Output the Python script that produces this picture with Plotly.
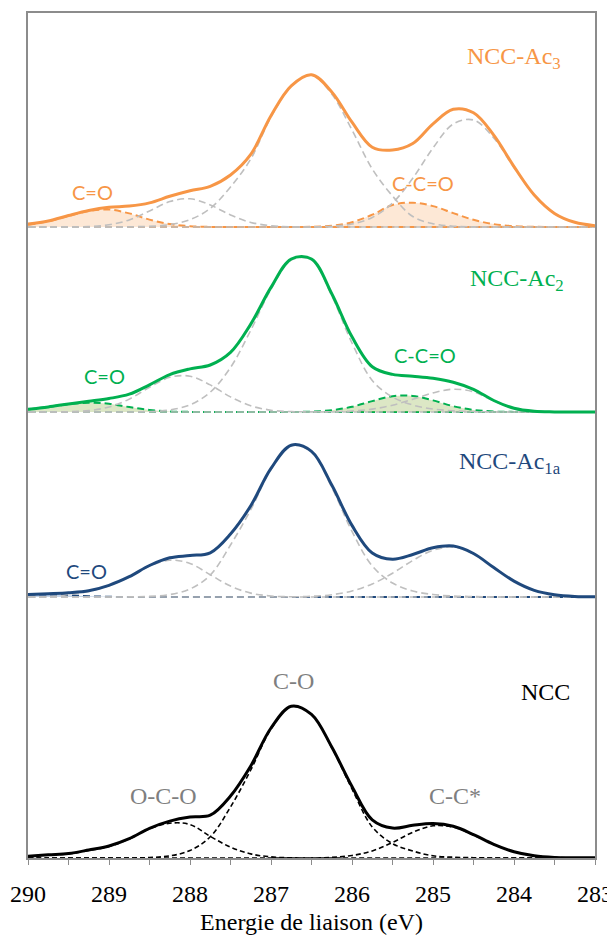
import plotly.graph_objects as go

# binding energy grid (eV)
energy = [290, 289.75, 289.5, 289.25, 289, 288.75, 288.5, 288.25, 288, 287.75,
          287.5, 287.25, 287, 286.75, 286.5, 286.25, 286, 285.75, 285.5, 285.25,
          285, 284.75, 284.5, 284.25, 284, 283.75, 283.5, 283.25, 283]

# NCC
ncc_env = [1.7, 3.2, 4.5, 8, 12, 19.3, 29.7, 36.9, 41, 42.8, 62, 92.1, 130, 151.8, 143.6,
           111, 71.5, 38.1, 29.9, 32.7, 34.4, 31.7, 23.4, 13.6, 6.2, 2.2, 0.6, 0.3, 0.3]
ncc_oco = [1.5, 3, 4, 7.5, 11.5, 19.1, 29.2, 34.8, 33.5, 21.6, 10.9, 4.1, 1.1, 0.2, 0,
           0, 0, 0, 0, 0, 0, 0, 0, 0, 0, 0, 0, 0, 0]
ncc_co = [0, 0, 0, 0, 0, 0, 0.5, 2.1, 7.5, 21.2, 51, 88, 128.9, 151.6, 143.5,
          110.4, 69, 31, 14.4, 7, 2.2, 0.8, 0.3, 0, 0, 0, 0, 0, 0]
ncc_cc = [0, 0, 0, 0, 0, 0, 0, 0, 0, 0, 0, 0, 0, 0, 0,
          0.6, 2.5, 7.1, 15.5, 25.7, 32.2, 30.9, 23.1, 13.6, 6.2, 2.2, 0.6, 0.1, 0]

# NCC-Ac1a
ac1a_env = [2.5, 3.3, 4.3, 6.3, 11.7, 20.3, 31.5, 39.2, 41.5, 44.2, 63, 91.2, 128.6, 151.8, 145.6,
            112, 71.6, 44, 37.8, 42.5, 49.2, 50.9, 43.5, 29.4, 15.9, 6.7, 2.3, 0.6, 0.3]
ac1a_c_o = [2.4, 2.6, 1.8, 0.8, 0.2, 0, 0, 0, 0, 0, 0, 0, 0, 0, 0,
            0, 0, 0, 0, 0, 0, 0, 0, 0, 0, 0, 0, 0, 0]
ac1a_oco = [0, 0.3, 2.5, 5.5, 11.5, 20.2, 30.9, 36.8, 33.5, 22.3, 10.9, 3.9, 1, 0.2, 0,
            0, 0, 0, 0, 0, 0, 0, 0, 0, 0, 0, 0, 0, 0]
ac1a_co = [0, 0, 0, 0, 0, 0.1, 0.6, 2.4, 8, 21.9, 52, 87.3, 127.6, 151.4, 144.9,
           109.7, 65.6, 31, 14, 6, 2.5, 1, 0.4, 0, 0, 0, 0, 0, 0]
ac1a_cc = [0, 0, 0, 0, 0, 0, 0, 0, 0, 0, 0, 0, 0, 0.2, 0.7,
           2.3, 6, 13, 23.8, 36.5, 46.7, 49.9, 43.1, 29.4, 15.9, 6.7, 2.3, 0.6, 0.1]

# NCC-Ac2
ac2_env = [2.7, 5.1, 8.1, 10.7, 13.5, 17.8, 27.2, 37.4, 43.1, 47, 59.6, 87.9, 124.6, 153, 153,
           118.3, 75.2, 45.3, 37.6, 35.8, 33.7, 29.8, 22.7, 11.5, 3.7, 0.7, 0.1, 0, 0]
ac2_c_o = [2.6, 5.1, 7.8, 9.3, 8.2, 4.9, 2, 0.6, 0.1, 0, 0, 0, 0, 0, 0,
           0, 0, 0, 0, 0, 0, 0, 0, 0, 0, 0, 0, 0, 0]
ac2_oco = [0, 0, 0.3, 1.4, 5, 12.9, 24.7, 34.7, 35.8, 27.1, 15.1, 6.2, 1.8, 0.4, 0.1,
           0, 0, 0, 0, 0, 0, 0, 0, 0, 0, 0, 0, 0, 0]
ac2_co = [0, 0, 0, 0, 0, 0, 0.5, 2.1, 7.2, 19.8, 44.5, 81.7, 122.8, 152, 152,
          116.2, 69, 31.5, 15, 7, 3, 1.2, 0.4, 0, 0, 0, 0, 0, 0]
ac2_ccco = [0, 0, 0, 0, 0, 0, 0, 0, 0, 0, 0, 0, 0, 0, 0.4,
            1.8, 5.2, 10.9, 15.8, 16.1, 11.6, 5.8, 2.1, 0.5, 0.1, 0, 0, 0, 0]
ac2_cc = [0, 0, 0, 0, 0, 0, 0, 0, 0, 0, 0, 0, 0, 0, 0,
          0.3, 1, 2.9, 6.8, 12.7, 19.1, 22.8, 20.2, 11, 3.6, 0.7, 0.1, 0, 0]

# NCC-Ac3
ac3_env = [3, 6, 11.5, 16.5, 19.7, 20.9, 24.1, 30.7, 36.3, 40.7, 52, 72.6, 111.3, 141.2, 152.3,
           135.1, 104.8, 79.8, 77, 83.5, 103.2, 117.7, 114.3, 91.9, 60.4, 32, 13.6, 4.7, 1.3]
ac3_c_o = [2.2, 5.6, 11, 16, 17.5, 13.6, 7.4, 2.9, 0.8, 0.1, 0, 0, 0, 0, 0,
           0, 0, 0, 0, 0, 0, 0, 0, 0, 0, 0, 0, 0, 0]
ac3_oco = [0, 0, 0.1, 0.5, 2.2, 7.1, 16, 25.4, 28.2, 22, 12, 4.6, 1.3, 0.2, 0,
           0, 0, 0, 0, 0, 0, 0, 0, 0, 0, 0, 0, 0, 0]
ac3_co = [0, 0, 0, 0, 0, 0.2, 0.7, 2.4, 7.3, 18.6, 40, 68, 110, 141, 152,
          133, 97, 58, 31, 10.5, 3.3, 0.8, 0.1, 0, 0, 0, 0, 0, 0]
ac3_ccco = [0, 0, 0, 0, 0, 0, 0, 0, 0, 0, 0, 0, 0, 0, 0.2,
            1.3, 4.8, 12.3, 22, 24.3, 20.9, 13.9, 7.2, 2.9, 0.9, 0.2, 0, 0, 0]
ac3_cc = [0, 0, 0, 0, 0, 0, 0, 0, 0, 0, 0, 0, 0, 0, 0.1,
          0.8, 3, 9.5, 24, 48.7, 79, 103, 107, 89, 59.5, 31.8, 13.6, 4.7, 1.3]

# vertical offset of each spectrum
offsets = {'ncc': 0, 'ac1a': 261, 'ac2': 446, 'ac3': 631}

ORANGE = '#F79646'
GREEN = '#00B050'
NAVY = '#1F497D'
GREY = '#BFBFBF'
FRAME = '#8C8C8C'

fig = go.Figure()


def shift(vals, off):
    return [v + off for v in vals]


def line(vals, off, color, width, dash='solid'):
    fig.add_trace(go.Scatter(x=energy, y=shift(vals, off), mode='lines',
                             line=dict(color=color, width=width, dash=dash, shape='spline'),
                             hoverinfo='skip'))


def filled(vals, off, color, fillcolor):
    # invisible baseline, then the shaded component
    fig.add_trace(go.Scatter(x=energy, y=[off] * len(energy), mode='lines',
                             line=dict(width=0), hoverinfo='skip'))
    fig.add_trace(go.Scatter(x=energy, y=shift(vals, off), mode='lines', fill='tonexty',
                             fillcolor=fillcolor,
                             line=dict(color=color, width=2, dash='7px,4px', shape='spline'),
                             hoverinfo='skip'))


# NCC-Ac3
o = offsets['ac3']
filled(ac3_c_o, o, ORANGE, 'rgba(247,150,70,0.22)')
filled(ac3_ccco, o, ORANGE, 'rgba(247,150,70,0.22)')
for comp in (ac3_oco, ac3_co, ac3_cc):
    line(comp, o, GREY, 1.6, '7px,4px')
line(ac3_env, o, ORANGE, 3)

# NCC-Ac2
o = offsets['ac2']
filled(ac2_c_o, o, GREEN, 'rgba(155,187,89,0.35)')
filled(ac2_ccco, o, GREEN, 'rgba(155,187,89,0.35)')
for comp in (ac2_oco, ac2_co, ac2_cc):
    line(comp, o, GREY, 1.6, '7px,4px')
line(ac2_env, o, GREEN, 3)

# NCC-Ac1a
o = offsets['ac1a']
filled(ac1a_c_o, o, NAVY, 'rgba(79,129,189,0.35)')
for comp in (ac1a_oco, ac1a_co, ac1a_cc):
    line(comp, o, GREY, 1.6, '7px,4px')
line(ac1a_env, o, NAVY, 3)

# NCC
o = offsets['ncc']
for comp in (ncc_oco, ncc_co, ncc_cc):
    line(comp, o, 'black', 1.6, '5px,3px')
line(ncc_env, o, 'black', 3)

serif = 'Liberation Serif'
sans = 'Lato'


def label(text, x, y, color, family, size):
    fig.add_annotation(x=x, y=y, text=text, showarrow=False, xanchor='center', yanchor='middle',
                       font=dict(family=family, size=size, color=color))


label('NCC-Ac<sub>3</sub>', 284.0, 800, ORANGE, serif, 24)
label('C=O', 289.2, 666, ORANGE, sans, 20)
label('C-C=O', 285.12, 675, ORANGE, sans, 20)
label('NCC-Ac<sub>2</sub>', 283.96, 578, GREEN, serif, 24)
label('C=O', 289.05, 482, GREEN, sans, 20)
label('C-C=O', 285.1, 503, GREEN, sans, 20)
label('NCC-Ac<sub>1a</sub>', 284.05, 395, NAVY, serif, 24)
label('C=O', 289.28, 287, NAVY, sans, 20)
label('NCC', 283.61, 166, 'black', serif, 24)
label('C-O', 286.72, 177, '#7F7F7F', serif, 24)
label('O-C-O', 288.33, 62, '#7F7F7F', serif, 24)
label('C-C*', 284.73, 62, '#7F7F7F', serif, 24)

# the page adds an 8px body margin, so the margins are shifted to compensate
fig.update_layout(
    width=615, height=936,
    margin=dict(l=20, r=28, t=5, b=86),
    plot_bgcolor='white', paper_bgcolor='white',
    showlegend=False,
    xaxis=dict(range=[290, 283], tick0=283, dtick=1, ticks='outside', ticklen=5,
               tickcolor=FRAME, showline=True, linecolor=FRAME, linewidth=1.5, mirror=True,
               showgrid=False, zeroline=False, automargin=False, ticklabelstandoff=8,
               minor=dict(dtick=0.5, ticks='outside', ticklen=5, tickcolor=FRAME),
               tickfont=dict(family=serif, size=24, color='black'),
               title=dict(text='Energie de liaison (eV)', standoff=8,
                          font=dict(family=serif, size=24, color='black'))),
    yaxis=dict(range=[0, 845], showline=True, linecolor=FRAME, linewidth=1.5, mirror=True,
               showticklabels=False, ticks='', showgrid=False, zeroline=False,
               automargin=False),
)

fig.write_html("out.html")
